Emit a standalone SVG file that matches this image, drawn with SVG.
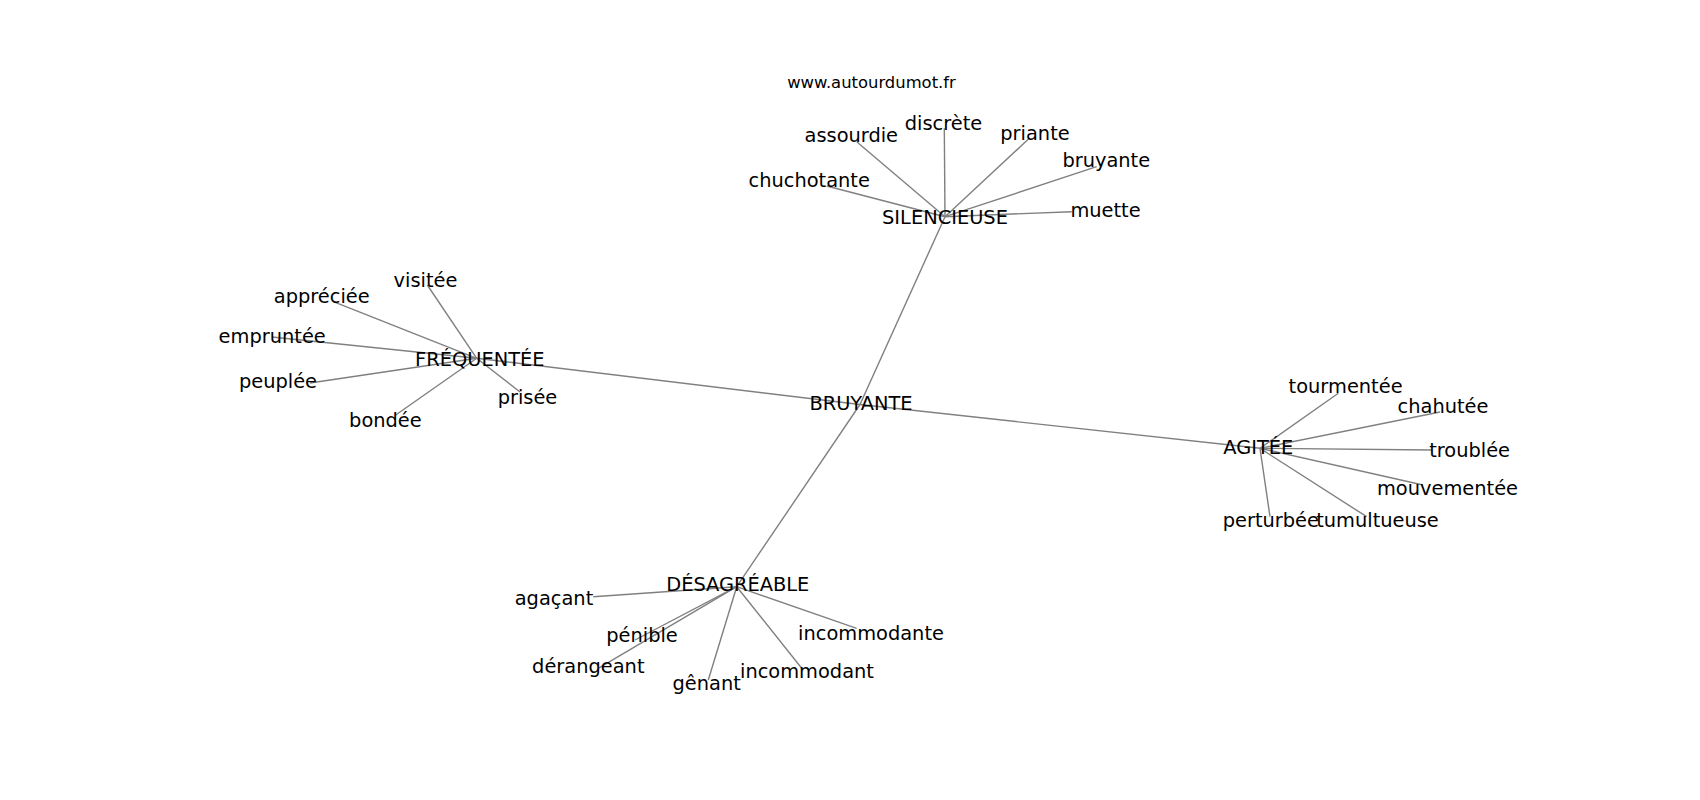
<svg xmlns="http://www.w3.org/2000/svg" width="1700" height="800" viewBox="0 0 1700 800">
<style>
.e{stroke:#808080;stroke-width:1.4;fill:none}
.t{font-family:"DejaVu Sans","Liberation Sans",sans-serif;font-size:19.4px;fill:#000;text-anchor:middle}
.h{font-family:"DejaVu Sans","Liberation Sans",sans-serif;font-size:16.4px;fill:#000;text-anchor:middle}
</style>
<rect width="1700" height="800" fill="#fff"/>
<g id="edges" class="e">
<line x1="860" y1="404.5" x2="476.7" y2="358.3"/>
<line x1="860" y1="404.5" x2="1260" y2="448.3"/>
<line x1="860" y1="404.5" x2="945" y2="216.7"/>
<line x1="860" y1="404.5" x2="736.7" y2="586.7"/>
<line x1="945" y1="216.7" x2="826.7" y2="186"/>
<line x1="945" y1="216.7" x2="856.7" y2="141.7"/>
<line x1="945" y1="216.7" x2="944.3" y2="128.3"/>
<line x1="945" y1="216.7" x2="1029.3" y2="138.3"/>
<line x1="945" y1="216.7" x2="1096.7" y2="166.7"/>
<line x1="945" y1="216.7" x2="1071.7" y2="211.7"/>
<line x1="476.7" y1="358.3" x2="427.3" y2="285"/>
<line x1="476.7" y1="358.3" x2="333.3" y2="301.7"/>
<line x1="476.7" y1="358.3" x2="272" y2="337"/>
<line x1="476.7" y1="358.3" x2="310" y2="383"/>
<line x1="476.7" y1="358.3" x2="395.7" y2="415"/>
<line x1="476.7" y1="358.3" x2="520" y2="392"/>
<line x1="1260" y1="448.3" x2="1338.3" y2="393.3"/>
<line x1="1260" y1="448.3" x2="1440" y2="412"/>
<line x1="1260" y1="448.3" x2="1431.7" y2="450"/>
<line x1="1260" y1="448.3" x2="1423" y2="485"/>
<line x1="1260" y1="448.3" x2="1366.7" y2="516.7"/>
<line x1="1260" y1="448.3" x2="1270" y2="516.7"/>
<line x1="736.7" y1="586.7" x2="593.3" y2="596.7"/>
<line x1="736.7" y1="586.7" x2="635" y2="640"/>
<line x1="736.7" y1="586.7" x2="598.3" y2="668.3"/>
<line x1="736.7" y1="586.7" x2="708.3" y2="680"/>
<line x1="736.7" y1="586.7" x2="801.7" y2="668.3"/>
<line x1="736.7" y1="586.7" x2="856.7" y2="628.3"/>
</g>
<g id="title"><text class="h" x="871.5" y="88">www.autourdumot.fr</text></g>
<g id="n-bruyante-main"><text class="t" x="861" y="410">BRUYANTE</text></g>
<g id="n-silencieuse"><text class="t" x="945" y="223.5">SILENCIEUSE</text></g>
<g id="n-chuchotante"><text class="t" x="809.2" y="186.7">chuchotante</text></g>
<g id="n-assourdie"><text class="t" x="851.3" y="141.7">assourdie</text></g>
<g id="n-discrete"><text class="t" x="943.5" y="130">discrète</text></g>
<g id="n-priante"><text class="t" x="1035" y="140">priante</text></g>
<g id="n-bruyante"><text class="t" x="1106.3" y="167.3">bruyante</text></g>
<g id="n-muette"><text class="t" x="1105.5" y="216.7">muette</text></g>
<g id="n-frequentee"><text class="t" x="479.8" y="366">FRÉQUENTÉE</text></g>
<g id="n-visitee"><text class="t" x="425.5" y="286.7">visitée</text></g>
<g id="n-appreciee"><text class="t" x="321.7" y="302.7">appréciée</text></g>
<g id="n-empruntee"><text class="t" x="272.2" y="342.7">empruntée</text></g>
<g id="n-peuplee"><text class="t" x="278" y="388.3">peuplée</text></g>
<g id="n-bondee"><text class="t" x="385.4" y="427">bondée</text></g>
<g id="n-prisee"><text class="t" x="527.5" y="404.4">prisée</text></g>
<g id="n-agitee"><text class="t" x="1258.3" y="454">AGITÉE</text></g>
<g id="n-tourmentee"><text class="t" x="1345.6" y="392.7">tourmentée</text></g>
<g id="n-chahutee"><text class="t" x="1443" y="413.3">chahutée</text></g>
<g id="n-troublee"><text class="t" x="1469.6" y="456.7">troublée</text></g>
<g id="n-mouvementee"><text class="t" x="1447.5" y="495">mouvementée</text></g>
<g id="n-tumultueuse"><text class="t" x="1377.5" y="526.7">tumultueuse</text></g>
<g id="n-perturbee"><text class="t" x="1270.8" y="526.7">perturbée</text></g>
<g id="n-desagreable"><text class="t" x="737.8" y="591">DÉSAGRÉABLE</text></g>
<g id="n-agacant"><text class="t" x="554" y="605">agaçant</text></g>
<g id="n-penible"><text class="t" x="642" y="641.7">pénible</text></g>
<g id="n-derangeant"><text class="t" x="588.3" y="672.7">dérangeant</text></g>
<g id="n-genant"><text class="t" x="706.7" y="690">gênant</text></g>
<g id="n-incommodant"><text class="t" x="807" y="678.3">incommodant</text></g>
<g id="n-incommodante"><text class="t" x="871" y="640">incommodante</text></g>
</svg>
